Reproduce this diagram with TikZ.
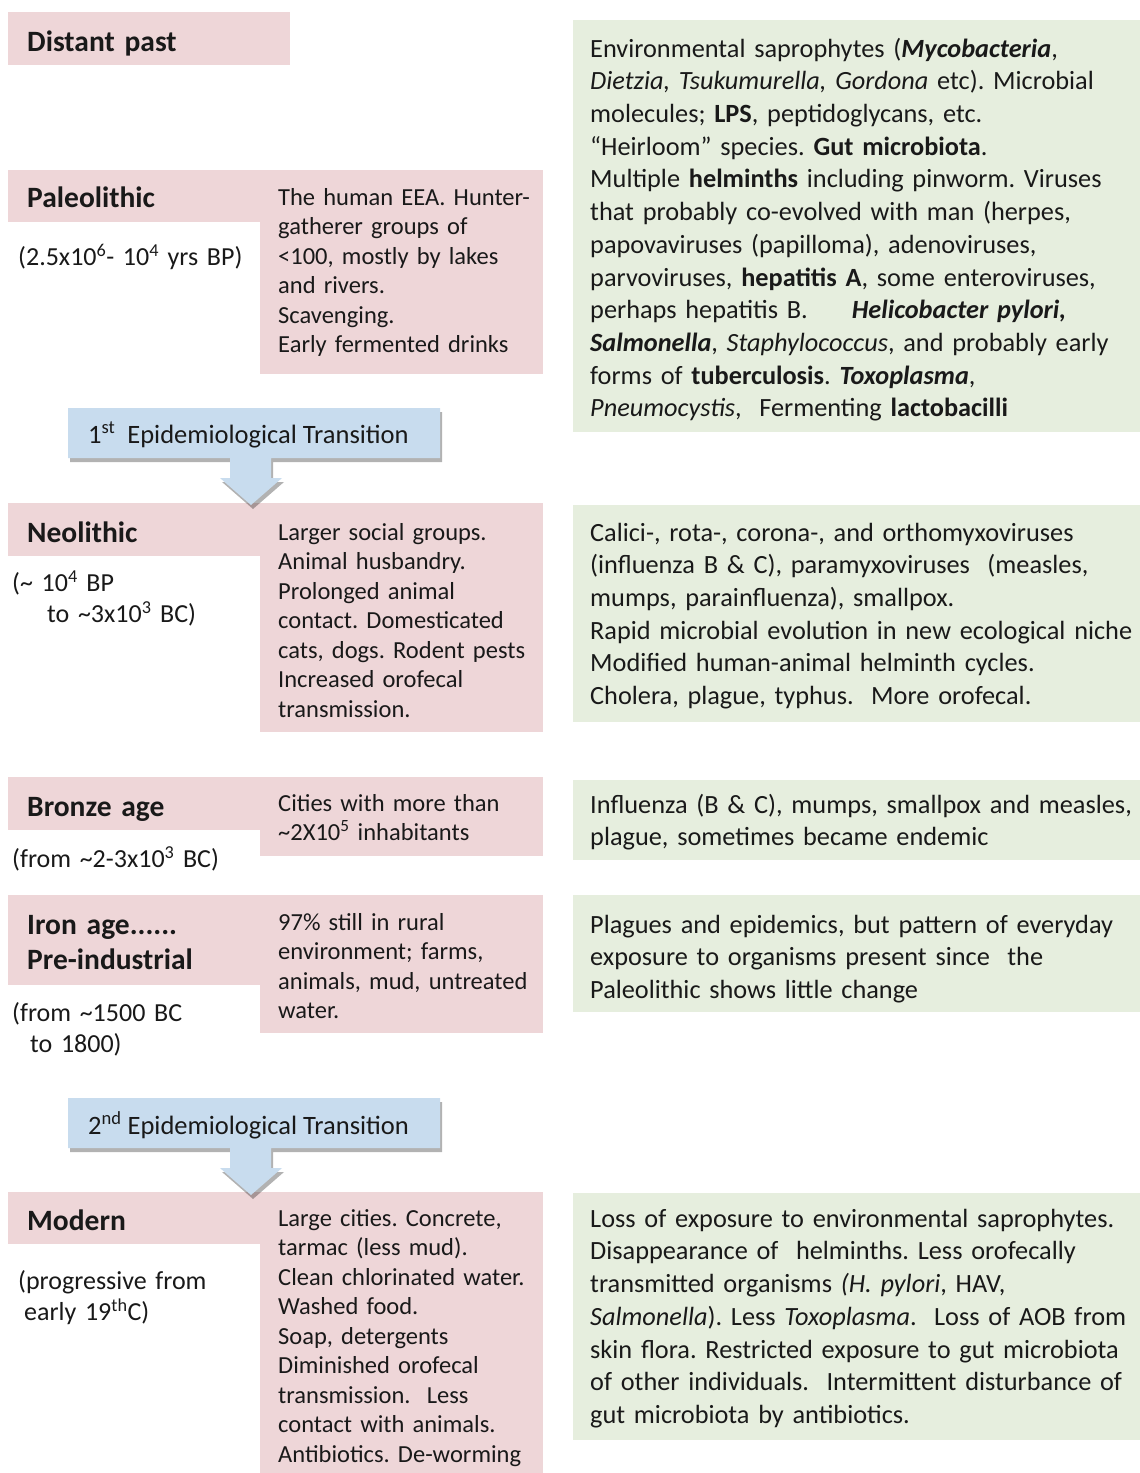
\documentclass[tikz,border=0pt]{standalone}
\usepackage{fontspec}
\setmainfont{Carlito}
\usetikzlibrary{shadows}
\definecolor{pinkbox}{RGB}{238,214,216}
\definecolor{greenbox}{RGB}{230,238,222}
\definecolor{bluebox}{RGB}{200,220,238}
\definecolor{ink}{RGB}{25,25,25}
\frenchspacing
\tikzset{
  pinkfill/.style={fill=pinkbox, draw=none},
  greenfill/.style={fill=greenbox, draw=none},
  bluearrow/.style={fill=bluebox, draw=none,
    drop shadow={shadow xshift=2pt, shadow yshift=-4pt, opacity=0.3, fill=black}},
  ptext/.style={anchor=north west, inner sep=0pt, text width=300pt, align=left,
    text=ink, font=\fontsize{24.5}{29.5}\selectfont\frenchspacing},
  gtext/.style={anchor=north west, inner sep=0pt, text width=600pt, align=left,
    text=ink, font=\fontsize{26.3}{32.7}\selectfont\frenchspacing},
  htext/.style={anchor=north west, inner sep=0pt, text width=260pt, align=left,
    text=ink, font=\fontsize{29.5}{35}\selectfont\bfseries},
  dtext/.style={anchor=north west, inner sep=0pt, text width=260pt, align=left,
    text=ink, font=\fontsize{26}{31}\selectfont\frenchspacing},
  btext/.style={anchor=base west, inner sep=0pt, text=ink,
    font=\fontsize{26.5}{32}\selectfont},
}
\begin{document}
\begin{tikzpicture}[x=1pt,y=-1pt]
\useasboundingbox[fill=white] (0,0) rectangle (1140,1473);

% ---------- pink boxes (left column) ----------
\path[pinkfill] (8,12) rectangle (290,65);
\path[pinkfill] (8,170) rectangle (262,222);
\path[pinkfill] (260,170) rectangle (543,374);
\path[pinkfill] (8,503) rectangle (262,556);
\path[pinkfill] (260,503) rectangle (543,732);
\path[pinkfill] (8,777) rectangle (262,830);
\path[pinkfill] (260,777) rectangle (543,856);
\path[pinkfill] (8,895) rectangle (262,985);
\path[pinkfill] (260,895) rectangle (543,1033);
\path[pinkfill] (8,1192) rectangle (262,1244);
\path[pinkfill] (260,1192) rectangle (543,1473);

% ---------- green boxes (right column) ----------
\path[greenfill] (573,20) rectangle (1140,432);
\path[greenfill] (573,505) rectangle (1140,722);
\path[greenfill] (573,780) rectangle (1140,860);
\path[greenfill] (573,895) rectangle (1140,1012);
\path[greenfill] (573,1193) rectangle (1140,1440);

% ---------- transition arrows ----------
\path[bluearrow] (68,408) -- (440,408) -- (440,458) -- (271,458) -- (271,478)
  -- (282,478) -- (251,505) -- (220,478) -- (230,478) -- (230,458) -- (68,458) -- cycle;
\path[bluearrow] (68,1098) -- (440,1098) -- (440,1148) -- (271,1148) -- (271,1168)
  -- (282,1168) -- (251,1195) -- (220,1168) -- (230,1168) -- (230,1148) -- (68,1148) -- cycle;
\node[btext] (t1) at (88,443) {1\textsuperscript{st}\ \ Epidemiological Transition};
\node[btext] (t2) at (88,1134) {2\textsuperscript{nd} Epidemiological Transition};

% ---------- headers ----------
\node[htext] (hdist) at (27,27) {\strut Distant past};
\node[htext] (hpal) at (27,183) {\strut Paleolithic};
\node[htext] (hneo) at (27,518) {\strut Neolithic};
\node[htext] (hbro) at (27,792) {\strut Bronze age};
\node[htext] (hiro) at (27,910) {\strut Iron age......\\Pre-industrial};
\node[htext] (hmod) at (27,1206) {\strut Modern};

% ---------- dates ----------
\node[dtext] (dpal) at (18,243.3) {\strut(2.5x10\textsuperscript{6}- 10\textsuperscript{4} yrs BP)};
\node[dtext] (dneo) at (12,569.3) {\strut(\textasciitilde{} 10\textsuperscript{4} BP\\\hspace*{35pt}to \textasciitilde3x10\textsuperscript{3} BC)};
\node[dtext] (dbro) at (12,845.3) {\strut(from \textasciitilde2-3x10\textsuperscript{3} BC)};
\node[dtext] (diro) at (12,999.3) {\strut(from \textasciitilde1500 BC\\\hspace*{18pt}to 1800)};
\node[dtext] (dmod) at (18,1267.3) {\strut(progressive from\\\hspace*{6pt}early 19\textsuperscript{th}C)};

% ---------- pink descriptions ----------
\node[ptext] (ppal) at (278,184.4) {\strut The human EEA. Hunter-\\gatherer groups of\\<100, mostly by lakes\\and rivers.\\Scavenging.\\Early fermented drinks};
\node[ptext] (pneo) at (278,519.4) {\strut Larger social groups.\\Animal husbandry.\\Prolonged animal\\contact. Domesticated\\cats, dogs. Rodent pests\\Increased orofecal\\transmission.};
\node[ptext] (pbro) at (278,790.4) {\strut Cities with more than\\\textasciitilde2X10\textsuperscript{5} inhabitants};
\node[ptext] (piro) at (278,909.4) {\strut 97\% still in rural\\environment; farms,\\animals, mud, untreated\\water.};
\node[ptext] (pmod) at (278,1205.4) {\strut Large cities. Concrete,\\tarmac (less mud).\\Clean chlorinated water.\\Washed food.\\Soap, detergents\\Diminished orofecal\\transmission.\ \ Less\\contact with animals.\\Antibiotics. De-worming};

% ---------- green descriptions ----------
\node[gtext] (gpal) at (590,34.1) {\strut Environmental saprophytes (\textbf{\textit{Mycobacteria}},\\
\textit{Dietzia, Tsukumurella, Gordona} etc). Microbial\\
molecules; \textbf{LPS}, peptidoglycans, etc.\\
“Heirloom” species. \textbf{Gut microbiota}.\\
Multiple \textbf{helminths} including pinworm. Viruses\\
that probably co-evolved with man (herpes,\\
papovaviruses (papilloma), adenoviruses,\\
parvoviruses, \textbf{hepatitis A}, some enteroviruses,\\
perhaps hepatitis B.\hspace{44pt}\textbf{\textit{Helicobacter pylori,}}\\
\textbf{\textit{Salmonella}}, \textit{Staphylococcus}, and probably early\\
forms of \textbf{tuberculosis}. \textbf{\textit{Toxoplasma}},\\
\textit{Pneumocystis},\ \ Fermenting \textbf{lactobacilli}};
\node[gtext] (gneo) at (590,518.1) {\strut Calici-, rota-, corona-, and orthomyxoviruses\\
(influenza B \& C), paramyxoviruses\ \ (measles,\\
mumps, parainfluenza), smallpox.\\
Rapid microbial evolution in new ecological niche\\
Modified human-animal helminth cycles.\\
Cholera, plague, typhus.\ \ More orofecal.};
\node[gtext] (gbro) at (590,790.1) {\strut Influenza (B \& C), mumps, smallpox and measles,\\
plague, sometimes became endemic};
\node[gtext] (giro) at (590,910.1) {\strut Plagues and epidemics, but pattern of everyday\\
exposure to organisms present since\ \ the\\
Paleolithic shows little change};
\node[gtext] (gmod) at (590,1204.1) {\strut Loss of exposure to environmental saprophytes.\\
Disappearance of\ \ helminths. Less orofecally\\
transmitted organisms \textit{(H. pylori}, HAV,\\
\textit{Salmonella}). Less \textit{Toxoplasma}.\ \ Loss of AOB from\\
skin flora. Restricted exposure to gut microbiota\\
of other individuals.\ \ Intermittent disturbance of\\
gut microbiota by antibiotics.};
\end{tikzpicture}
\end{document}
